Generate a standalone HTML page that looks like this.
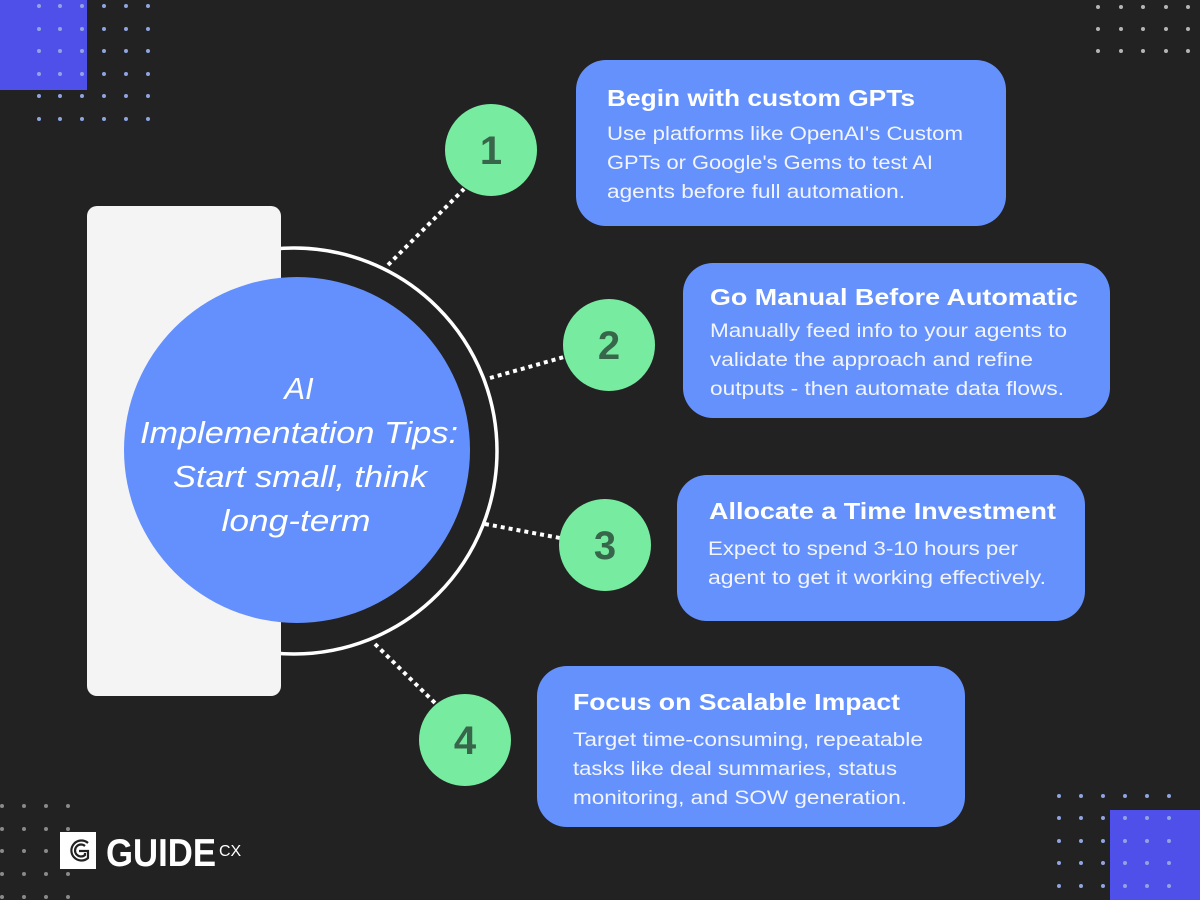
<!DOCTYPE html>
<html><head><meta charset="utf-8"><style>
html,body{margin:0;padding:0;background:#222222;}
svg{display:block;}
</style></head><body>
<svg width="1200" height="900" viewBox="0 0 1200 900" xmlns="http://www.w3.org/2000/svg" font-family="Liberation Sans, sans-serif">
<rect width="1200" height="900" fill="#222222"/>
<rect x="0" y="0" width="87" height="90" fill="#4f50e9"/>
<g fill="#8fa4e0">
<g id="r1"><circle cx="39" cy="6" r="2"/><circle cx="60" cy="6" r="2"/><circle cx="82" cy="6" r="2"/><circle cx="104" cy="6" r="2"/><circle cx="126" cy="6" r="2"/><circle cx="148" cy="6" r="2"/></g>
<use href="#r1" y="23"/><use href="#r1" y="45"/><use href="#r1" y="68"/><use href="#r1" y="90"/><use href="#r1" y="113"/>
</g>
<rect x="1110" y="810" width="90" height="90" fill="#4f50e9"/>
<g fill="#8fa4e0">
<g id="r2"><circle cx="1059" cy="796" r="2"/><circle cx="1081" cy="796" r="2"/><circle cx="1103" cy="796" r="2"/><circle cx="1125" cy="796" r="2"/><circle cx="1147" cy="796" r="2"/><circle cx="1169" cy="796" r="2"/></g>
<use href="#r2" y="22"/><use href="#r2" y="45"/><use href="#r2" y="67"/><use href="#r2" y="90"/>
</g>
<g fill="#b5b5b5">
<g id="r3"><circle cx="1098" cy="7" r="2"/><circle cx="1121" cy="7" r="2"/><circle cx="1143" cy="7" r="2"/><circle cx="1166" cy="7" r="2"/><circle cx="1188" cy="7" r="2"/></g>
<use href="#r3" y="22"/><use href="#r3" y="44"/>
</g>
<g fill="#8a8a8a">
<g id="r4"><circle cx="2" cy="806" r="2"/><circle cx="24" cy="806" r="2"/><circle cx="46" cy="806" r="2"/><circle cx="68" cy="806" r="2"/></g>
<use href="#r4" y="23"/><use href="#r4" y="45"/><use href="#r4" y="68"/><use href="#r4" y="91"/>
</g>
<rect x="60" y="832" width="36" height="37" fill="#ffffff"/>
<g fill="none" stroke="#222" stroke-width="2.2">
<path d="M88 843 A10 10 0 1 0 88 858 L88 851 L79 851"/>
<path d="M85 846 A6 6 0 1 0 85 855 L85 853"/>
</g>
<text x="106" y="866" font-size="39" font-weight="bold" fill="#fff" textLength="110" lengthAdjust="spacingAndGlyphs">GUIDE</text>
<text x="219" y="856" font-size="16" fill="#fff">CX</text>

<g stroke="#ffffff" stroke-width="4" stroke-dasharray="4 4" fill="none">
<line x1="388" y1="265" x2="464" y2="189"/>
<line x1="490" y1="378" x2="564" y2="357"/>
<line x1="485" y1="524" x2="560" y2="538"/>
<line x1="375" y1="644" x2="435" y2="703"/>
</g>
<circle cx="294" cy="451" r="203" fill="none" stroke="#ffffff" stroke-width="3.5"/>
<rect x="87" y="206" width="194" height="490" rx="10" fill="#f4f4f4"/>
<circle cx="297" cy="450" r="173" fill="#6490fd"/>
<g fill="#ffffff" font-style="italic" font-size="31" text-anchor="middle">
<text x="299" y="399">AI</text>
<text x="299" y="443" textLength="318" lengthAdjust="spacingAndGlyphs">Implementation Tips:</text>
<text x="300" y="487" textLength="254" lengthAdjust="spacingAndGlyphs">Start small, think</text>
<text x="296" y="531" textLength="149" lengthAdjust="spacingAndGlyphs">long-term</text>
</g>

<g fill="#77eba0">
<circle cx="491" cy="150" r="46"/>
<circle cx="609" cy="345" r="46"/>
<circle cx="605" cy="545" r="46"/>
<circle cx="465" cy="740" r="46"/>
</g>
<g fill="#37664a" font-size="40" font-weight="bold" text-anchor="middle">
<text x="491" y="164">1</text>
<text x="609" y="359">2</text>
<text x="605" y="559">3</text>
<text x="465" y="754">4</text>
</g>

<g fill="#6591fd">
<rect x="576" y="60" width="430" height="166" rx="30"/>
<rect x="683" y="263" width="427" height="155" rx="30"/>
<rect x="677" y="475" width="408" height="146" rx="30"/>
<rect x="537" y="666" width="428" height="161" rx="30"/>
</g>
<g fill="#ffffff">
<g font-size="23" font-weight="bold">
<text x="607" y="106" textLength="308" lengthAdjust="spacingAndGlyphs">Begin with custom GPTs</text>
<text x="710" y="305" textLength="368" lengthAdjust="spacingAndGlyphs">Go Manual Before Automatic</text>
<text x="709" y="519" textLength="347" lengthAdjust="spacingAndGlyphs">Allocate a Time Investment</text>
<text x="573" y="710" textLength="327" lengthAdjust="spacingAndGlyphs">Focus on Scalable Impact</text>
</g>
<g font-size="19" fill="#f2f5ff">
<text x="607" y="140" textLength="356" lengthAdjust="spacingAndGlyphs">Use platforms like OpenAI's Custom</text>
<text x="607" y="169" textLength="326" lengthAdjust="spacingAndGlyphs">GPTs or Google's Gems to test AI</text>
<text x="607" y="198" textLength="298" lengthAdjust="spacingAndGlyphs">agents before full automation.</text>
<text x="710" y="337" textLength="357" lengthAdjust="spacingAndGlyphs">Manually feed info to your agents to</text>
<text x="710" y="366" textLength="323" lengthAdjust="spacingAndGlyphs">validate the approach and refine</text>
<text x="710" y="395" textLength="354" lengthAdjust="spacingAndGlyphs">outputs - then automate data flows.</text>
<text x="708" y="555" textLength="310" lengthAdjust="spacingAndGlyphs">Expect to spend 3-10 hours per</text>
<text x="708" y="584" textLength="338" lengthAdjust="spacingAndGlyphs">agent to get it working effectively.</text>
<text x="573" y="746" textLength="350" lengthAdjust="spacingAndGlyphs">Target time-consuming, repeatable</text>
<text x="573" y="775" textLength="324" lengthAdjust="spacingAndGlyphs">tasks like deal summaries, status</text>
<text x="573" y="804" textLength="334" lengthAdjust="spacingAndGlyphs">monitoring, and SOW generation.</text>
</g>
</g>
</svg>
</body></html>
